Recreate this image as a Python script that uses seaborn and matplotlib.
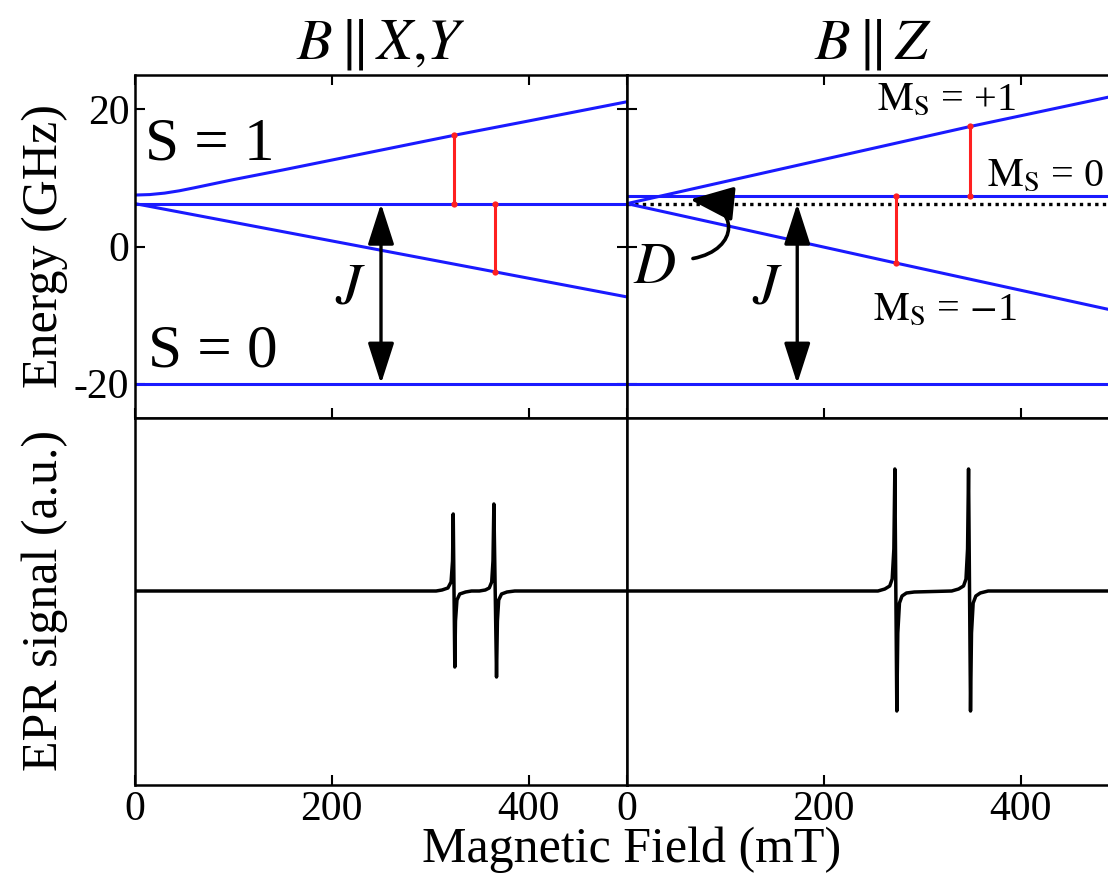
import numpy as np
import matplotlib
matplotlib.use("Agg")
import matplotlib.pyplot as plt
import seaborn as sns
from matplotlib.patches import FancyArrowPatch
from matplotlib.path import Path

# ---------------------------------------------------------------- data
field_limits = [0, 500]            # mT
field_ticks = [0, 200, 400]
energy_limits = [-25, 25]          # GHz
energy_ticks = [20, 0, -20]
energy_ticklabels = ["20", "0", "-20"]
epr_limits = [-1.94, 1.73]         # arbitrary units

singlet_field = [0, 500]
singlet_energy = [-20.0, -20.0]

# B || X,Y : triplet sublevels
xy_upper_field = [0, 15, 30, 45, 60, 80, 100, 150, 200, 324, 400, 500]
xy_upper_energy = [7.5, 7.57, 7.78, 8.12, 8.55, 9.15, 9.75, 11.15, 12.6,
                   16.2, 18.3, 21.1]
xy_middle_field = [0, 500]
xy_middle_energy = [6.25, 6.25]
xy_lower_field = [0, 366, 500]
xy_lower_energy = [6.25, -3.7, -7.35]
xy_trans_field = [324, 366]
xy_trans_low = [6.25, -3.7]
xy_trans_high = [16.2, 6.25]
xy_J_field = 250

# B || Z : triplet sublevels
z_plus_field = [0, 349, 500]
z_plus_energy = [6.25, 17.5, 22.1]
z_zero_field = [0, 500]
z_zero_energy = [7.4, 7.4]
z_minus_field = [0, 273, 500]
z_minus_energy = [6.25, -2.4, -9.5]
z_center_field = [0, 500]
z_center_energy = [6.25, 6.25]
z_trans_field = [273, 349]
z_trans_low = [-2.4, 7.4]
z_trans_high = [7.4, 17.5]
z_J_field = 173

# curved pointer to the zero-field splitting D (field, energy)
d_arrow_field = [67, 115, 115, 64]
d_arrow_energy = [-1.75, -0.45, 6.1, 6.85]

# EPR spectra (first-derivative traces)
xy_epr_field = [0, 306, 312, 318, 321.2, 322.7, 323.4, 325.0, 325.7, 327.2,
                330, 336, 342, 350, 356, 360, 362.5, 363.8, 364.7, 367.4,
                368.3, 369.6, 372.5, 378, 386, 500]
xy_epr_signal = [0, 0, 0.01, 0.03, 0.09, 0.30, 0.77, -0.76, -0.30, -0.09,
                 -0.03, -0.01, 0, 0, 0.01, 0.03, 0.09, 0.30, 0.87, -0.86,
                 -0.30, -0.09, -0.03, -0.01, 0, 0]
z_epr_field = [0, 255, 262, 267, 269.5, 271.2, 272.2, 274.2, 275.2, 276.9,
               279.5, 284, 292, 330, 337, 342, 344.5, 346.1, 347.1, 349.1,
               350.1, 351.8, 354.5, 359, 367, 500]
z_epr_signal = [0, 0, 0.02, 0.05, 0.12, 0.42, 1.22, -1.20, -0.42, -0.12,
                -0.05, -0.02, -0.01, 0, 0.02, 0.05, 0.12, 0.42, 1.22, -1.20,
                -0.42, -0.12, -0.05, -0.02, 0, 0]

# ---------------------------------------------------------------- style
sns.set_theme(style="ticks")
plt.rcParams["font.family"] = ["Liberation Serif", "DejaVu Serif"]
plt.rcParams["mathtext.fontset"] = "stix"
plt.rcParams["text.color"] = "black"
plt.rcParams["axes.labelcolor"] = "black"
plt.rcParams["xtick.color"] = "black"
plt.rcParams["ytick.color"] = "black"
plt.rcParams["axes.linewidth"] = 1.8
plt.rcParams["axes.edgecolor"] = "black"

BLUE = "#1a1aff"
RED = "#ff2020"
LEVEL_LW = 2.2

W, H = 1108, 881
fig = plt.figure(figsize=(W / 100, H / 100), dpi=100)


def frac(x0, y0, x1, y1):
    return [x0 / W, 1 - y1 / H, (x1 - x0) / W, (y1 - y0) / H]


ax_tl = fig.add_axes(frac(135, 75, 627, 418))
ax_tr = fig.add_axes(frac(627, 75, 1119, 418))
ax_bl = fig.add_axes(frac(135, 418, 627, 785))
ax_br = fig.add_axes(frac(627, 418, 1119, 785))

for ax in (ax_tl, ax_tr, ax_bl, ax_br):
    ax.set_xlim(field_limits)
    ax.set_xticks(field_ticks)
    ax.tick_params(direction="in", length=7, width=1.5, top=True, right=True,
                   labelsize=30, pad=4, colors="black")
    for s in ax.spines.values():
        s.set_visible(True)
        s.set_linewidth(1.8)
        s.set_color("black")

for ax in (ax_tl, ax_tr):
    ax.set_ylim(energy_limits)
    ax.set_yticks(energy_ticks)
    ax.tick_params(labelbottom=False)

ax_tl.set_yticklabels(energy_ticklabels)
ax_tr.tick_params(labelleft=False)

for ax in (ax_bl, ax_br):
    ax.set_ylim(epr_limits)
    ax.set_yticks([])
    ax.tick_params(top=False)
    ax.set_xticklabels([str(t) for t in field_ticks])


def level(ax, x, y, **kw):
    sns.lineplot(x=x, y=y, ax=ax, color=kw.pop("color", BLUE),
                 linewidth=kw.pop("lw", LEVEL_LW), estimator=None,
                 sort=False, **kw)


def transitions(ax, x, lo, hi):
    for xi, a, b in zip(x, lo, hi):
        sns.lineplot(x=[xi, xi], y=[a, b], ax=ax, color=RED, linewidth=2.2,
                     marker="o", markersize=4.5, markeredgewidth=0,
                     estimator=None, sort=False, zorder=4)


def j_arrow(ax, x, y0, y1):
    ax.add_patch(FancyArrowPatch((x, y0), (x, y1),
                                 arrowstyle="<|-|>,head_length=1.4,head_width=0.45",
                                 mutation_scale=18, lw=2.4, color="black",
                                 shrinkA=0, shrinkB=0, zorder=5))


# ---- B || X,Y energy levels
level(ax_tl, singlet_field, singlet_energy)
level(ax_tl, xy_upper_field, xy_upper_energy)
level(ax_tl, xy_middle_field, xy_middle_energy)
level(ax_tl, xy_lower_field, xy_lower_energy)
transitions(ax_tl, xy_trans_field, xy_trans_low, xy_trans_high)
j_arrow(ax_tl, xy_J_field, singlet_energy[0], xy_middle_energy[0])
ax_tl.text(10, 14.8, "S = 1", fontsize=44, ha="left", va="center")
ax_tl.text(13, -15.4, "S = 0", fontsize=44, ha="left", va="center")
ax_tl.text(219, -6.3, "$J$", fontsize=42, ha="center", va="center")

# ---- B || Z energy levels
level(ax_tr, singlet_field, singlet_energy)
level(ax_tr, z_center_field, z_center_energy, color="black", lw=2.4,
      dashes=(1, 1.3))
level(ax_tr, z_zero_field, z_zero_energy)
level(ax_tr, z_plus_field, z_plus_energy)
level(ax_tr, z_minus_field, z_minus_energy)
transitions(ax_tr, z_trans_field, z_trans_low, z_trans_high)
j_arrow(ax_tr, z_J_field, singlet_energy[0], z_center_energy[0])
ax_tr.text(142.5, -6.3, "$J$", fontsize=42, ha="center", va="center")
ax_tr.text(28, -3.3, "$D$", fontsize=42, ha="center", va="center")
d_path = Path(list(zip(d_arrow_field, d_arrow_energy)),
              [Path.MOVETO, Path.CURVE4, Path.CURVE4, Path.CURVE4])
ax_tr.add_patch(FancyArrowPatch(path=d_path,
                                arrowstyle="-|>,head_length=1.5,head_width=0.6",
                                mutation_scale=18, lw=2.6, color="black",
                                transform=ax_tr.transData, zorder=5))
ax_tr.text(254, 21.4, r"$\mathrm{M}_{\mathrm{S}}$ = +1", fontsize=29,
           ha="left", va="center")
ax_tr.text(366, 10.2, r"$\mathrm{M}_{\mathrm{S}}$ = 0", fontsize=29,
           ha="left", va="center")
ax_tr.text(250, -9.2, r"$\mathrm{M}_{\mathrm{S}}$ = $-$1", fontsize=29,
           ha="left", va="center")

# ---- EPR spectra
level(ax_bl, xy_epr_field, xy_epr_signal, color="black", lw=2.5)
level(ax_br, z_epr_field, z_epr_signal, color="black", lw=2.5)

# ---- titles and axis labels
ax_tl.set_title(r"$B\,\|\,X{,}Y$", fontsize=42, pad=12)
ax_tr.set_title(r"$B\,\|\,Z$", fontsize=42, pad=12)
fig.text(45 / W, 1 - 246 / H, "Energy (GHz)", rotation=90, fontsize=36,
         ha="center", va="center")
fig.text(45 / W, 1 - 600 / H, "EPR signal (a.u.)", rotation=90, fontsize=36,
         ha="center", va="center")
fig.text(632 / W, 1 - 850 / H, "Magnetic Field (mT)", fontsize=36,
         ha="center", va="center")

fig.savefig("out.png", dpi=100, facecolor="white")
